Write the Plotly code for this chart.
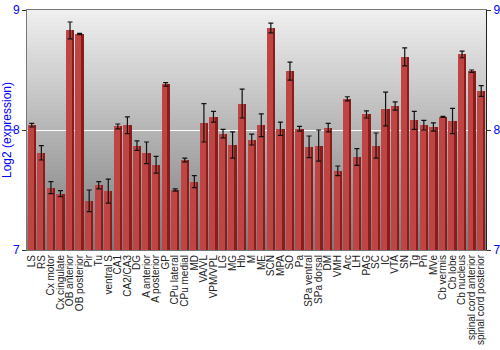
import plotly.graph_objects as go

regions = ["LS", "RS", "Cx motor", "Cx cingulate", "OB anterior", "OB posterior", "Pir", "Tu",
           "ventral S", "CA1", "CA2/CA3", "DG", "A anterior", "A posterior", "GP", "CPu lateral",
           "CPu medial", "MD", "VA/VL", "VPM/VPL", "LG", "MG", "Hb", "M", "ME", "SCN", "MPA",
           "SO", "Pa", "SPa ventral", "SPa dorsal", "DM", "VMH", "Arc", "LH", "PAG", "SC", "IC",
           "VTA", "SN", "Tg", "Pn", "MVe", "Cb vermis", "Cb lobe", "Cb nucleus",
           "spinal cord anterior", "spinal cord posterior"]

expression = [8.04, 7.81, 7.52, 7.47, 8.83, 8.80, 7.41, 7.54,
              7.49, 8.03, 8.04, 7.87, 7.81, 7.71, 8.38, 7.50,
              7.75, 7.57, 8.06, 8.11, 7.97, 7.875, 8.22, 7.92, 8.04, 8.85, 8.01,
              8.49, 8.01, 7.86, 7.87, 8.02, 7.66, 8.26, 7.775, 8.13, 7.87, 8.175,
              8.20, 8.61, 8.08, 8.04, 8.025, 8.11, 8.075, 8.63,
              8.49, 8.325]

errors = [0.015, 0.06, 0.05, 0.025, 0.07, 0.005, 0.09, 0.03,
          0.10, 0.02, 0.07, 0.04, 0.09, 0.07, 0.014, 0.01,
          0.015, 0.05, 0.16, 0.045, 0.035, 0.11, 0.12, 0.045, 0.095, 0.04, 0.055,
          0.075, 0.02, 0.09, 0.13, 0.035, 0.04, 0.017, 0.07, 0.03, 0.105, 0.14,
          0.035, 0.075, 0.075, 0.04, 0.035, 0.004, 0.105, 0.028,
          0.01, 0.045]

y_ticks = [7, 8, 9]
y_range = [7, 9]

fig = go.Figure()

# dark base of each bar
fig.add_trace(go.Bar(x=regions, y=expression, width=0.86,
                     marker=dict(color="#8a1c1c", line=dict(width=0)),
                     hoverinfo="skip", showlegend=False))
# lighter left part (highlight)
fig.add_trace(go.Bar(x=regions, y=expression, width=0.62, offset=-0.43,
                     marker=dict(color="#bf4444", line=dict(width=0)),
                     showlegend=False))
# error bars, also drives the right axis
fig.add_trace(go.Scatter(x=regions, y=expression, mode="markers",
                         marker=dict(size=1, color="rgba(0,0,0,0)"),
                         error_y=dict(type="data", array=errors, color="#111111",
                                      thickness=1.2, width=2.5),
                         yaxis="y2", hoverinfo="skip", showlegend=False))

# gradient background
n = 60
top = (240, 240, 240)
bot = (122, 122, 122)
shapes = []
for i in range(n):
    t = (i + 0.5) / n
    c = tuple(int(round(top[k] + (bot[k] - top[k]) * t)) for k in range(3))
    shapes.append(dict(type="rect", xref="x domain", yref="y domain",
                       x0=0, x1=1, y0=1 - (i + 1) / n, y1=1 - i / n + 0.001,
                       fillcolor="rgb(%d,%d,%d)" % c, line=dict(width=0), layer="below"))

fig.update_layout(
    width=500, height=350,
    margin=dict(l=27, r=14, t=10, b=100),
    paper_bgcolor="white", plot_bgcolor="#b0b0b0",
    barmode="overlay", bargap=0,
    shapes=shapes,
    font=dict(family="Liberation Sans, Arial, sans-serif"),
    xaxis=dict(tickangle=-90, tickfont=dict(size=10, color="#222222"),
               tickmode="array", tickvals=regions, ticktext=regions,
               showline=True, mirror=True, linecolor="#777777", linewidth=1,
               ticks="", showgrid=False, automargin=False,
               range=[-0.5, len(regions) - 0.5]),
    yaxis=dict(range=y_range, tickvals=y_ticks, ticks="outside", ticklen=4,
               tickcolor="#333333", tickfont=dict(size=12, color="blue"),
               showgrid=True, gridcolor="white", gridwidth=1, zeroline=False,
               showline=True, linecolor="#777777",
               title=dict(text="Log2 (expression)", font=dict(size=12, color="blue"), standoff=2),
               automargin=False),
    yaxis2=dict(range=y_range, tickvals=y_ticks, overlaying="y", side="right",
                ticks="outside", ticklen=4, tickcolor="#333333",
                tickfont=dict(size=12, color="blue"), showgrid=False, zeroline=False,
                showline=True, linecolor="#222222", automargin=False),
)

fig.write_html("out.html")
